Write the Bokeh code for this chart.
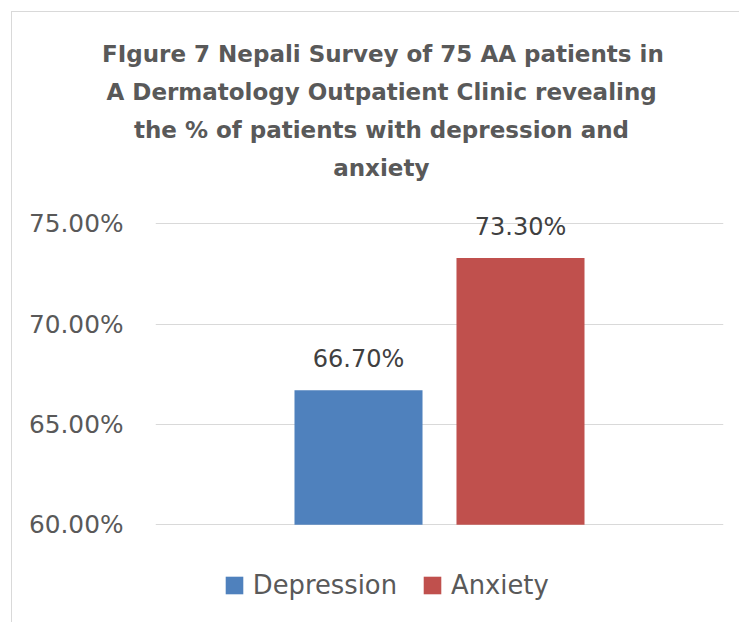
from bokeh.plotting import figure
from bokeh.models import (ColumnDataSource, FactorRange, Range1d, FixedTicker,
                          PrintfTickFormatter, Legend, LegendItem, Title)
from bokeh.transform import dodge
from bokeh.core.properties import value
from bokeh.embed import file_html
from bokeh.resources import INLINE

# ---- data ----
title_lines = [
    "FIgure 7 Nepali Survey of 75 AA patients in",
    "A Dermatology Outpatient Clinic revealing",
    "the % of patients with depression and",
    "anxiety",
]
categories = ["Survey"]
series = ["Depression", "Anxiety"]
values = [66.7, 73.3]
colors = ["#4F81BD", "#C0504D"]
y_ticks = [60, 65, 70, 75]

# ---- styling ----
offsets = [-0.1426, 0.1426]
bar_width = 0.2254
TXT = "#595959"
title_offsets = [-53.5, -49, -21.6, 177.7]

# frame is extended below the 60% baseline so that the legend can live inside it
p = figure(width=728, height=611, title=None,
           x_range=FactorRange(factors=categories),
           y_range=Range1d(55.082, 76.909),
           output_backend="svg", toolbar_location=None,
           min_border_left=143, min_border_right=17,
           min_border_top=173, min_border_bottom=0)
p.styles = {"margin-left": "11px", "margin-top": "11px",
            "border-left": "1px solid #D9D9D9", "border-top": "1px solid #D9D9D9"}
p.background_fill_color = "white"
p.border_fill_color = "white"
p.outline_line_color = None

p.xaxis.visible = False
p.xgrid.visible = False

p.yaxis.ticker = FixedTicker(ticks=y_ticks)
p.ygrid.ticker = FixedTicker(ticks=y_ticks)
p.yaxis.formatter = PrintfTickFormatter(format="%.2f%%")
p.yaxis.axis_line_color = None
p.yaxis.major_tick_line_color = None
p.yaxis.minor_tick_line_color = None
p.yaxis.major_label_standoff = 26
p.yaxis.major_label_text_font = "DejaVu Sans"
p.yaxis.major_label_text_font_size = "24.8px"
p.yaxis.major_label_text_color = TXT
p.ygrid.grid_line_color = "#D9D9D9"
p.ygrid.grid_line_width = 1

items = []
for s, v, c, off in zip(series, values, colors, offsets):
    src = ColumnDataSource(dict(cat=categories, val=[v], label=[f"{v:.2f}%"]))
    r = p.vbar(x=dodge("cat", off, range=p.x_range), top="val", bottom=y_ticks[0],
               width=bar_width, source=src, fill_color=c, line_color=None)
    p.text(x=dodge("cat", off, range=p.x_range), y="val", text="label", source=src,
           text_font=value("DejaVu Sans"), text_font_size="24px", text_color="#404040",
           text_align="center", text_baseline="alphabetic", y_offset=-31)
    items.append(LegendItem(label=s, renderers=[r]))

legend = Legend(items=items, location=(67.8, 23), orientation="horizontal",
                glyph_width=22, glyph_height=22, label_standoff=8, spacing=24,
                padding=0, margin=0, border_line_color=None, background_fill_alpha=0,
                label_text_font="DejaVu Sans", label_text_font_size="25.8px",
                label_text_color=TXT)
p.add_layout(legend, "center")

# add bottom line first so that it sits closest to the plot
for line, off in reversed(list(zip(title_lines, title_offsets))):
    p.add_layout(Title(text=line, align="left", offset=off, standoff=10,
                       text_font="DejaVu Sans", text_font_style="bold",
                       text_font_size="23px", text_color=TXT), "above")

open("out.html", "w").write(file_html(p, INLINE))
